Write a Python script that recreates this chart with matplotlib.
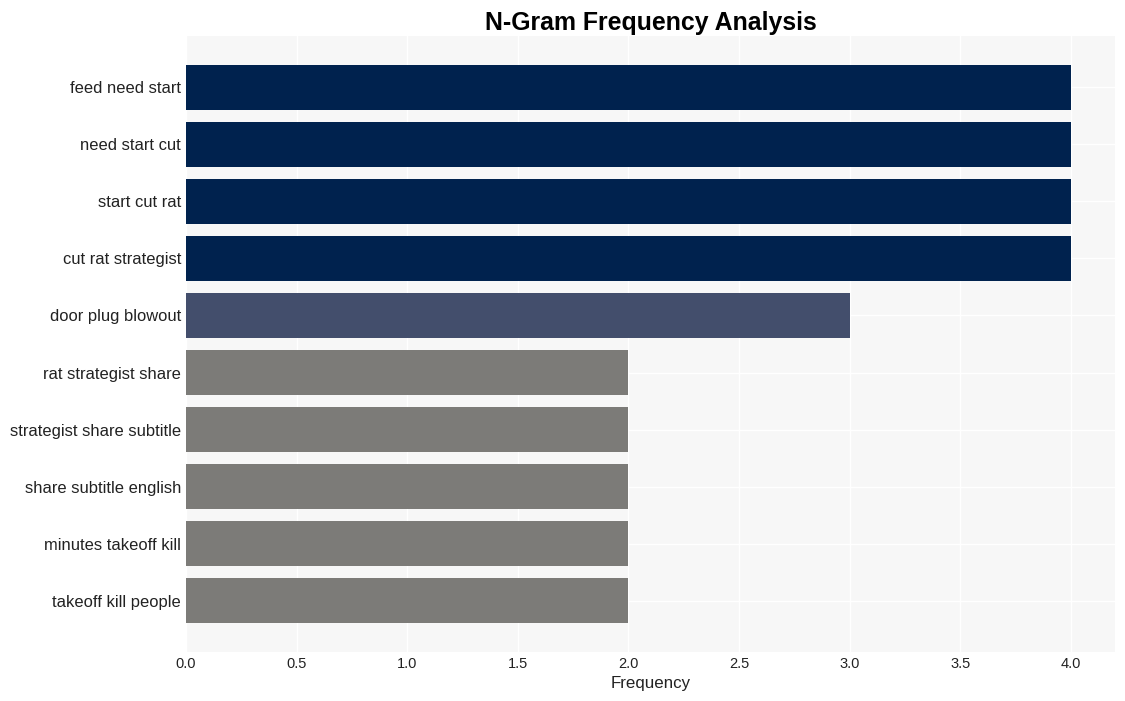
import matplotlib
matplotlib.use("Agg")
import matplotlib.pyplot as plt

labels = ["feed need start", "need start cut", "start cut rat", "cut rat strategist",
          "door plug blowout", "rat strategist share", "strategist share subtitle",
          "share subtitle english", "minutes takeoff kill", "takeoff kill people"]
values = [4, 4, 4, 4, 3, 2, 2, 2, 2, 2]
color_map = {4: "#00224e", 3: "#434e6c", 2: "#7c7b78"}

plt.rcParams['font.family'] = ['Liberation Sans', 'DejaVu Sans']

fig = plt.figure(figsize=(11.25, 7.01), dpi=100)
ax = fig.add_axes([186/1125, 1 - 652/701, (1115-186)/1125, (652-36)/701])
ax.set_facecolor("#f7f7f7")
ypos = list(range(len(labels)))
ax.barh(ypos, values, height=0.8, color=[color_map[v] for v in values], zorder=3)
ax.set_yticks(ypos)
ax.set_yticklabels(labels, fontsize=11.9, color="#222222")
ax.set_ylim(len(labels) - 0.1, -0.9)
ax.set_xlim(0, 4.2)
ax.set_xticks([0, 0.5, 1, 1.5, 2, 2.5, 3, 3.5, 4])
ax.set_xticklabels(["0.0", "0.5", "1.0", "1.5", "2.0", "2.5", "3.0", "3.5", "4.0"], fontsize=10.5, color="#222222")
ax.tick_params(axis="y", length=0, pad=3.5)
ax.tick_params(axis="x", length=0, pad=3.5)
ax.grid(True, color="white", linewidth=1, zorder=0)
ax.set_axisbelow(True)
for s in ax.spines.values():
    s.set_visible(False)
ax.set_xlabel("Frequency", fontsize=12.2, color="#222222", labelpad=4)
fig.suptitle("N-Gram Frequency Analysis", fontsize=17.9, fontweight="bold", y=0.985, x=(186+1115)/2/1125)
fig.savefig("out.png", dpi=100)
